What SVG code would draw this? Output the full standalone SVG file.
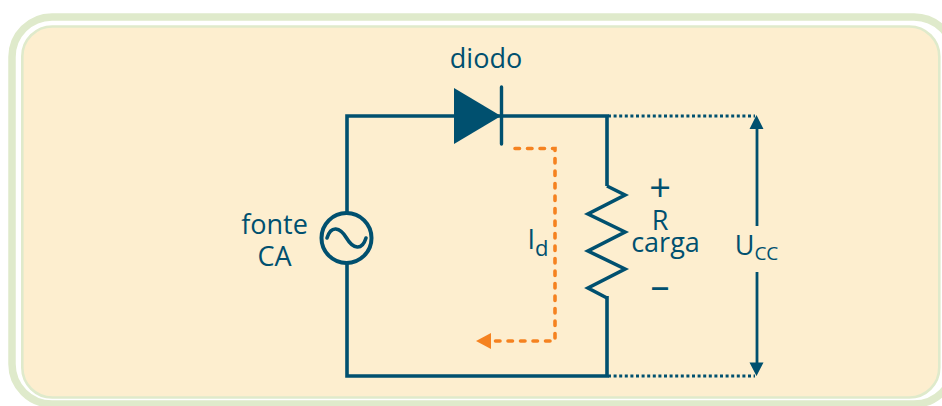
<svg xmlns="http://www.w3.org/2000/svg" width="942" height="406" viewBox="0 0 942 406">
<style>
.t{font-family:"Open Sans","Noto Sans","Liberation Sans",sans-serif;fill:#00506f;font-size:27px;text-anchor:middle}
.b{font-size:38px}
.w{fill:none;stroke:#00506f;stroke-width:3.6;stroke-linejoin:miter;stroke-linecap:butt}
.o{fill:none;stroke:#f58220;stroke-width:3.6;stroke-linecap:round}
.d{fill:none;stroke:#00506f;stroke-width:3;stroke-dasharray:3 2.6}
.a{fill:none;stroke:#00506f;stroke-width:2.8}
.h{fill:#00506f}
</style>
<rect width="942" height="406" fill="#ffffff"/>
<g id="panel">
<rect x="12" y="17" width="942" height="387" rx="40" fill="none" stroke="#dfeacb" stroke-width="7.5"/>
<rect x="22.300" y="26.500" width="917" height="371" rx="30" fill="#fdeecf" stroke="#dfeacb" stroke-width="2.600"/>
</g>
<g id="connectors">
<path class="w" d="M347 213V116H500M501 116H607V186M607 296V376H347V263"/>
<path class="d" d="M608 116H755M608 376H755"/>
<path class="a" d="M757 126V226M757 272V366"/>
<path class="h" d="M756.500 115L763.500 129H749.500ZM756.500 376L749.500 362.500H763.500Z"/>
<path class="o" d="M515 148.500H555V341H492" stroke-dasharray="4.500 8"/>
<path fill="#f58220" d="M476 341L491 333V349Z"/>
</g>
<g id="diodo">
<path class="h" d="M454 88L501 116L454 144Z"/>
<path fill="none" stroke="#00506f" stroke-width="3.400" stroke-linecap="round" d="M501.500 87V144"/>
<text class="t" x="486" y="68">diodo</text>
</g>
<g id="fonte">
<circle cx="346.500" cy="238" r="25" fill="none" stroke="#00506f" stroke-width="4"/>
<path fill="none" stroke="#00506f" stroke-width="3.600" stroke-linecap="round" d="M327 238C331 225 340 227 346.500 238C353 249 362 251 366 238"/>
<text class="t" x="274.500" y="234">fonte</text>
<text class="t" x="274.500" y="266">CA</text>
</g>
<g id="carga">
<path class="w" d="M607 186L625 195L588 214L625 232L588 251L625 269L588 288L607 298"/>
<text class="t b" x="660" y="201">+</text>
<text class="t" x="660" y="230">R</text>
<text class="t" x="665.500" y="252">carga</text>
<text class="t b" x="660" y="299">–</text>
</g>
<g id="Id">
<text class="t" x="538" y="249">I<tspan style="font-size:22px" dy="7">d</tspan></text>
</g>
<g id="Ucc">
<text class="t" x="756.500" y="255">U<tspan style="font-size:19px" dy="5">CC</tspan></text>
</g>
</svg>
